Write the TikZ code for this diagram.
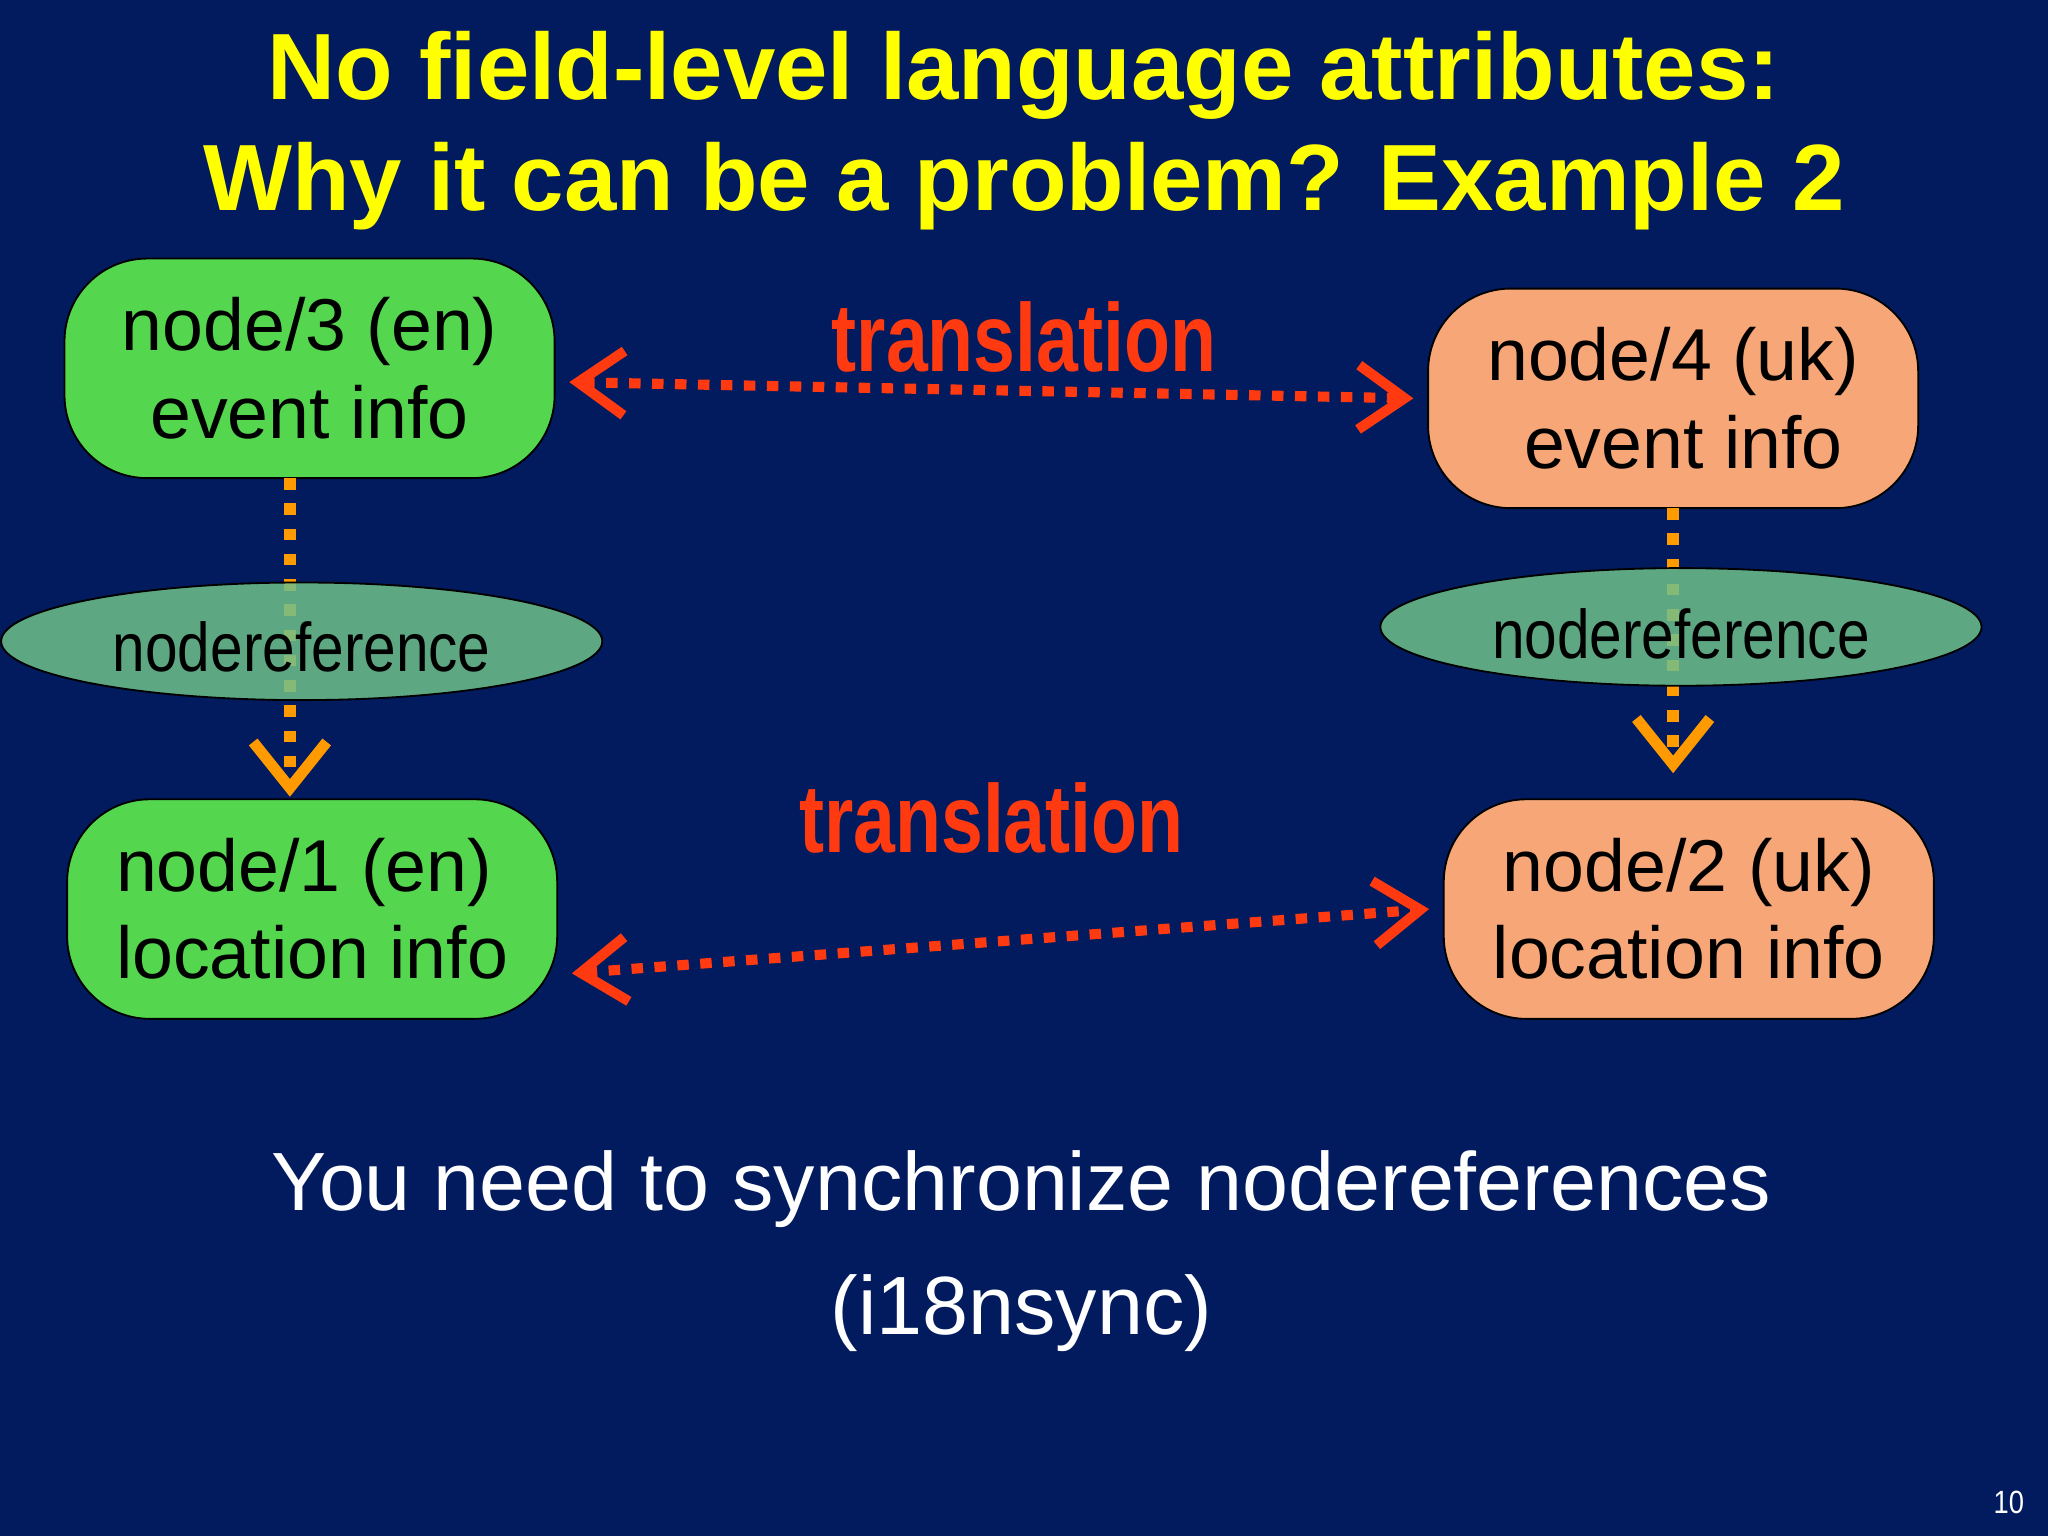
\documentclass[tikz,border=0pt]{standalone}
\usepackage{fontspec}
\setmainfont{Liberation Sans}
\usetikzlibrary{shapes.geometric,arrows.meta}
\definecolor{bg}{HTML}{021B5E}
\definecolor{gbox}{HTML}{55D64F}
\definecolor{obox}{HTML}{F7A777}
\definecolor{ell}{HTML}{6FC08A}
\definecolor{tred}{HTML}{FF3A10}
\definecolor{tor}{HTML}{FF9A00}
\definecolor{ttl}{HTML}{FFFF00}
\tikzset{
 box/.style={draw=black, rounded corners=18pt, minimum width=3.75cm, minimum height=1.68cm, align=center, font=\fontsize{16}{19}\selectfont, inner sep=0pt},
 ellip/.style={ellipse, draw=black, fill=ell, fill opacity=0.85, text opacity=1, minimum width=4.6cm, minimum height=0.9cm, inner sep=0pt},
 trans/.style={text=tred, font=\bfseries\fontsize{21}{24}\selectfont, xscale=0.78},
 redarr/.style={tred, line width=2.2pt, dash pattern=on 2.5pt off 2.5pt, {Straight Barb[length=10pt,width=14pt,line width=2.2pt]}-{Straight Barb[length=10pt,width=14pt,line width=2.2pt]}},
 orarr/.style={tor, line width=2.6pt, dash pattern=on 2.5pt off 3pt, -{Straight Barb[length=10pt,width=16pt,line width=2.4pt]}},
}
\begin{document}
\begin{tikzpicture}[x=0.01cm,y=-0.01cm]
\fill[bg] (0,0) rectangle (1568,1176);
\node[text=ttl, font=\bfseries\fontsize{20.5}{24}\selectfont, align=center] (title) at (784,100) {No field-level language attributes:\\Why it can be a problem? Example 2};
\node[box, fill=gbox] (n3) at (237,282) {node/3 (en)\\event info};
\node[box, fill=obox] (n4) at (1281,305) {node/4 (uk)\\\ event info};
\node[box, fill=gbox, align=left] (n1) at (239,696) {node/1 (en)\\location info};
\node[box, fill=obox] (n2) at (1293,696) {node/2 (uk)\\location info};
\coordinate (a3) at (222,366);
\coordinate (b1) at (222,610);
\coordinate (a4) at (1281,389);
\coordinate (b2) at (1281,592);
\draw[orarr] (a3) -- (b1);
\draw[orarr] (a4) -- (b2);
\node[ellip] (e1) at (231,491) {};
\node[ellip] (e2) at (1287,480) {};
\node[font=\fontsize{15}{18}\selectfont, xscale=0.85] (t1) at (231,495) {nodereference};
\node[font=\fontsize{15}{18}\selectfont, xscale=0.85] (t2) at (1287,485) {nodereference};
\draw[redarr] ([xshift=3pt,yshift=-3pt]n3.east) -- ([xshift=-3pt]n4.west);
\draw[redarr] ([xshift=3pt,yshift=-14pt]n1.east) -- ([xshift=-3pt]n2.west);
\node[trans] (l1) at (784,258) {translation};
\node[trans] (l2) at (759,626) {translation};
\node[text=white, font=\fontsize{18}{27}\selectfont, align=center] (msg) at (782,958) {You need to synchronize nodereferences\\(i18nsync)};
\node[text=white, font=\fontsize{7}{8}\selectfont, xscale=0.85] (pg) at (1538,1150) {10};
\end{tikzpicture}
\end{document}
